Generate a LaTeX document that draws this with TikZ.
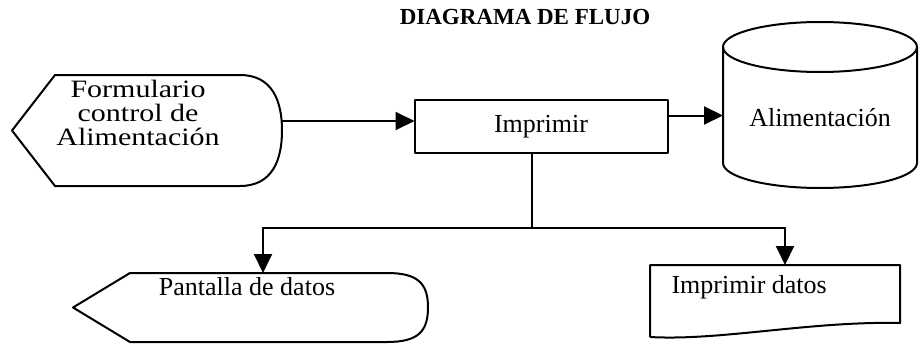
\documentclass[tikz,border=0pt]{standalone}
\usepackage{fontspec}
\setmainfont{Liberation Serif}
\newfontfamily\widefont{Liberation Serif}[FakeStretch=1.2]
\usetikzlibrary{positioning, arrows.meta, calc}

\begin{document}
\begin{tikzpicture}[
    x=1pt, y=-1pt,
    >={Triangle[length=19pt, width=18pt]},
    font=\fontsize{26}{28}\selectfont,
    outline/.style={draw=black, line width=2pt, line join=round},
    holder/.style={inner sep=0pt, outer sep=0pt},
    arrow/.style={->, line width=2pt, draw=black},
    link/.style={line width=2pt, draw=black}
]
\useasboundingbox (0,0) rectangle (921,348);

%% --- Title ---
\node[font=\fontsize{23}{25}\selectfont\bfseries] (title) at (525,17) {DIAGRAMA DE FLUJO};

%% --- Input form (display shape) ---
\node[holder, minimum width=270pt, minimum height=111pt] (form) at (147,130.5) {};
\node[align=center, font=\widefont\fontsize{25}{24}\selectfont] (form_txt) at (138,113) {Formulario\\control de\\Alimentación};
\draw[outline] (form.west) -- ($(form.north west)+(43,0)$) -- ($(form.north east)+(-42,0)$)
    .. controls ($(form.north east)+(-10,0)$) and ($(form.east)+(0,-30)$) .. (form.east)
    .. controls ($(form.east)+(0,30)$) and ($(form.south east)+(-10,0)$) .. ($(form.south east)+(-42,0)$)
    -- ($(form.south west)+(43,0)$) -- cycle;

%% --- Process ---
\node[outline, holder, minimum width=253pt, minimum height=53pt] (print) at (541,126.5) {Imprimir};

%% --- Storage (cylinder) ---
\node[holder, minimum width=194pt, minimum height=166pt] (store) at (820,105) {};
\node (store_txt) at (820,118) {Alimentación};
\draw[outline] (723,47) -- (723,163) arc (180:0:97 and 25) -- (917,47);
\draw[outline] (820,47) ellipse (97 and 25);

%% --- Screen output (display shape) ---
\node[holder, minimum width=355pt, minimum height=69pt] (screen) at (250.5,307.5) {};
\node (screen_txt) at (247,287) {Pantalla de datos};
\draw[outline] (screen.west) -- ($(screen.north west)+(57,0)$) -- ($(screen.north east)+(-41,0)$)
    .. controls ($(screen.north east)+(-10,0)$) and ($(screen.east)+(0,-24)$) .. (screen.east)
    .. controls ($(screen.east)+(0,24)$) and ($(screen.south east)+(-10,0)$) .. ($(screen.south east)+(-41,0)$)
    -- ($(screen.south west)+(57,0)$) -- cycle;

%% --- Printed document ---
\node[holder, minimum width=250pt, minimum height=72pt] (doc) at (775,301) {};
\node[anchor=base west] (doc_txt) at (668,293) {Imprimir datos};
\draw[outline] (doc.south west) -- (doc.north west) -- (doc.north east) -- ($(doc.south east)+(0,-14)$)
    .. controls ($(doc.south east)+(-90,-16)$) and ($(doc.south west)+(70,4)$) .. (doc.south west);

%% --- Connectors ---
\coordinate (split) at (532,228);
\draw[arrow] ([yshift=9.5pt]form.east) -- ([yshift=9.5pt]form.east -| print.west);
\draw[arrow] ([yshift=11pt]print.east) -- ([yshift=11pt]print.east -| store.west);
\draw[link] (print.south -| split) -- (split);
\draw[arrow] (split) -| ([xshift=12.5pt]screen.north);
\draw[arrow] (split) -| ([xshift=10pt]doc.north);

\end{tikzpicture}
\end{document}
